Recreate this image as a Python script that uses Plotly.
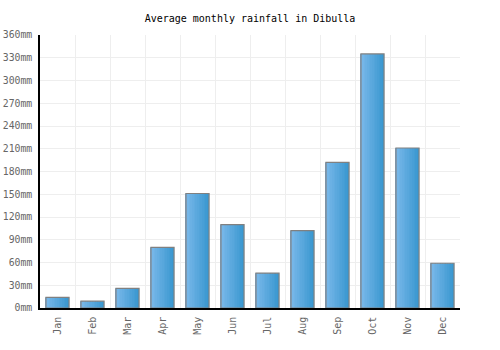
import plotly.graph_objects as go

months = ["Jan", "Feb", "Mar", "Apr", "May", "Jun", "Jul", "Aug", "Sep", "Oct", "Nov", "Dec"]
rainfall_mm = [14, 9, 26, 80, 151, 110, 46, 102, 192, 335, 211, 59]
title_text = "Average monthly rainfall in Dibulla"

FONT = "DejaVu Sans Mono"
bar_w = 0.66
n_slices = 14
c_left = (122, 184, 234)
c_right = (58, 152, 208)

fig = go.Figure()
for i in range(n_slices):
    t = i / (n_slices - 1)
    col = tuple(round(a + (b - a) * t) for a, b in zip(c_left, c_right))
    fig.add_trace(go.Bar(
        x=months, y=rainfall_mm,
        width=bar_w / n_slices * 1.05,
        offset=-bar_w / 2 + i * bar_w / n_slices,
        marker=dict(color="rgb(%d,%d,%d)" % col, line=dict(width=0)),
        hoverinfo="skip", showlegend=False,
    ))
fig.add_trace(go.Bar(
    x=months, y=rainfall_mm, width=bar_w, offset=-bar_w / 2,
    marker=dict(color="rgba(0,0,0,0)", line=dict(color="#808080", width=1.2)),
    showlegend=False,
))

fig.update_layout(
    width=500, height=350,
    margin=dict(l=40, r=40, t=35, b=42),
    paper_bgcolor="white", plot_bgcolor="white",
    barmode="overlay",
    title=dict(text=title_text, x=0.5, xanchor="center", y=1 - 18 / 350, yanchor="middle",
               font=dict(family=FONT, size=10, color="#000")),
    font=dict(family=FONT, size=10, color="#666"),
    xaxis=dict(
        type="category", tickson="boundaries", showgrid=True, gridcolor="#eeeeee", gridwidth=1,
        ticks="", tickangle=-90, showline=True, linecolor="#000", linewidth=1.5,
        ticklabelstandoff=3, automargin=False,
        tickfont=dict(family=FONT, size=10, color="#666"),
    ),
    yaxis=dict(
        range=[0, 360], dtick=30, ticksuffix="mm", showgrid=True, gridcolor="#eeeeee", gridwidth=1,
        ticks="", showline=True, linecolor="#000", linewidth=1.5, zeroline=False,
        ticklabelstandoff=4, automargin=False,
        tickfont=dict(family=FONT, size=9.8, color="#666"),
    ),
)

fig.write_html("out.html")
